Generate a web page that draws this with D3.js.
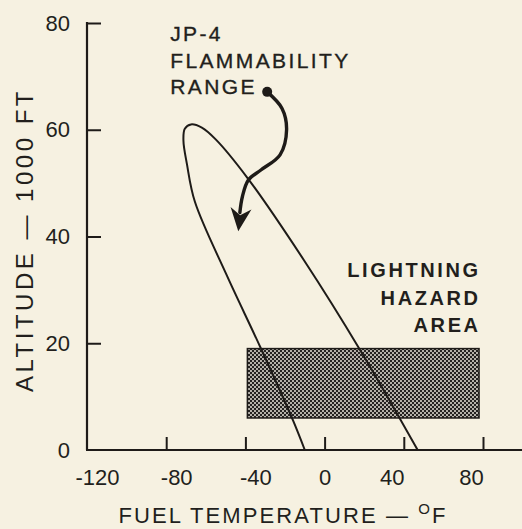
<!DOCTYPE html>
<html>
<head>
<meta charset="utf-8">
<script src="https://cdn.jsdelivr.net/npm/d3@7"></script>
<style>
  html, body { margin: 0; padding: 0; background: #f6f1e1; }
  svg { display: block; }
  text { font-family: "Liberation Sans", Arial, Helvetica, sans-serif; fill: #221f1c; }
</style>
</head>
<body>
<script>
// ---- data ----
const xTicks = [-120, -80, -40, 0, 40, 80];
const yTicks = [0, 20, 40, 60, 80];

// JP-4 flammability range boundary (fuel temperature °F, altitude 1000 ft)
const loopTemp = [-10, -16, -32.5, -49.5, -65.5, -69.5, -71.3, -70.6, -67.5, -62, -55, -39, -10.5, 18, 47];
const loopAlt  = [0, 5.6, 19.3, 32.8, 46.5, 53.5, 58, 60.2, 61, 60.4, 58.2, 51, 35.6, 18.7, 0];

// Lightning hazard area
const hazardTemp = [-39, 78];
const hazardAlt  = [6, 19];

// Annotation arrow from label into the range
const arrowTemp = [-29, -21.5, -19.2, -22.5, -32, -38.5, -41.5, -42.8, -43.6];
const arrowAlt  = [67.1, 64, 60, 55.3, 52.5, 50.6, 47.5, 44.5, 41];

const flamLabel = ["JP-4", "FLAMMABILITY", "RANGE"];
const flamLabelPos = [-78, 76.6];
const hazardLabel = ["LIGHTNING", "HAZARD", "AREA"];
const hazardLabelPos = [77.5, 32.4];

// ---- chart ----
const W = 522, H = 529;
const svg = d3.select("body").append("svg").attr("width", W).attr("height", H);
svg.append("rect").attr("width", W).attr("height", H).attr("fill", "#f6f1e1");

const x = d3.scaleLinear().domain([-120, 80]).range([87, 483]);
const y = d3.scaleLinear().domain([0, 80]).range([450, 23]);
const ink = "#1e1b18";

const defs = svg.append("defs");
const pat = defs.append("pattern").attr("id", "dots")
  .attr("patternUnits", "userSpaceOnUse").attr("width", 4).attr("height", 4);
pat.append("rect").attr("width", 4).attr("height", 4).attr("fill", "#242220");
pat.append("circle").attr("cx", 1).attr("cy", 1).attr("r", 0.95).attr("fill", "#f2eee2");
pat.append("circle").attr("cx", 3).attr("cy", 3).attr("r", 0.95).attr("fill", "#f2eee2");

// hazard rectangle
svg.append("rect")
  .attr("x", x(hazardTemp[0])).attr("y", y(hazardAlt[1]))
  .attr("width", x(hazardTemp[1]) - x(hazardTemp[0]))
  .attr("height", y(hazardAlt[0]) - y(hazardAlt[1]))
  .attr("fill", "url(#dots)").attr("stroke", ink).attr("stroke-width", 1.5);

// axes
const xAxis = d3.axisBottom(x).tickValues(xTicks).tickSizeInner(-13).tickSizeOuter(0).tickPadding(19)
  .tickFormat(d => String(d));
const gx = svg.append("g").attr("transform", `translate(0,${y(0)})`).call(xAxis);
gx.select(".domain").remove();
gx.selectAll(".tick line").attr("stroke", ink).attr("stroke-width", 2);
gx.selectAll(".tick text").attr("font-size", 22).attr("fill", ink)
  .attr("font-family", "Liberation Sans, Arial, sans-serif")
  .attr("dx", d => d < 0 ? 10 : (d > 0 ? -12 : 0));
gx.selectAll(".tick").filter(d => d === -120).select("line").remove();

const yAxis = d3.axisLeft(y).tickValues(yTicks).tickSizeInner(-14).tickSizeOuter(0).tickPadding(17)
  .tickFormat(d => String(d));
const gy = svg.append("g").attr("transform", `translate(${x(-120)},0)`).call(yAxis);
gy.select(".domain").remove();
gy.selectAll(".tick line").attr("stroke", ink).attr("stroke-width", 2);
gy.selectAll(".tick text").attr("font-size", 22).attr("fill", ink)
  .attr("font-family", "Liberation Sans, Arial, sans-serif");
gy.selectAll(".tick").filter(d => d === 0).select("line").remove();

svg.append("line").attr("x1", x(-120)).attr("x2", x(-120)).attr("y1", y(80) - 1).attr("y2", y(0))
  .attr("stroke", ink).attr("stroke-width", 2.2);
svg.append("line").attr("x1", x(-120) - 1).attr("x2", W).attr("y1", y(0)).attr("y2", y(0))
  .attr("stroke", ink).attr("stroke-width", 2.2);

// flammability loop
const loopPts = loopTemp.map((t, i) => [t, loopAlt[i]]);
const line = d3.line().x(d => x(d[0])).y(d => y(d[1])).curve(d3.curveCatmullRom.alpha(0.5));
svg.append("path").attr("d", line(loopPts)).attr("fill", "none")
  .attr("stroke", ink).attr("stroke-width", 2);

// arrow (shaft stops at head base, head drawn from the last segment's direction)
const arrowPts = arrowTemp.map((t, i) => [t, arrowAlt[i]]);
const n = arrowPts.length;
const tip = [x(arrowPts[n - 1][0]), y(arrowPts[n - 1][1])];
const prev = [x(arrowPts[n - 3][0]), y(arrowPts[n - 3][1])];
let dx = tip[0] - prev[0], dy = tip[1] - prev[1];
const len = Math.hypot(dx, dy); dx /= len; dy /= len;
const px = -dy, py = dx;
const headL = 23, headW = 10.5, notch = 7;
svg.append("path").attr("d", line(arrowPts.slice(0, n - 1))).attr("fill", "none")
  .attr("stroke", ink).attr("stroke-width", 3.4).attr("stroke-linecap", "round");
const head = [
  tip,
  [tip[0] - dx * headL + px * headW, tip[1] - dy * headL + py * headW],
  [tip[0] - dx * (headL - notch), tip[1] - dy * (headL - notch)],
  [tip[0] - dx * headL - px * headW, tip[1] - dy * headL - py * headW]
];
svg.append("path").attr("d", "M" + head.map(p => p.join(",")).join("L") + "Z").attr("fill", ink);
svg.append("circle").attr("cx", x(arrowTemp[0])).attr("cy", y(arrowAlt[0])).attr("r", 5).attr("fill", ink);

// labels
const ft = svg.append("text").attr("x", x(flamLabelPos[0])).attr("y", y(flamLabelPos[1]))
  .attr("font-size", 21).attr("letter-spacing", 2.4).attr("stroke", "#221f1c").attr("stroke-width", 0.35);
flamLabel.forEach((s, i) => ft.append("tspan").attr("x", x(flamLabelPos[0])).attr("dy", i === 0 ? 0 : 26.5).text(s));

const ht = svg.append("text").attr("x", x(hazardLabelPos[0])).attr("y", y(hazardLabelPos[1]))
  .attr("font-size", 20).attr("font-weight", "bold").attr("letter-spacing", 2.6).attr("text-anchor", "end");
hazardLabel.forEach((s, i) => ht.append("tspan").attr("x", x(hazardLabelPos[0]) + 2.6).attr("dy", i === 0 ? 0 : 27.5).text(s));

// axis titles
const xt = svg.append("text").attr("x", 283).attr("y", 523).attr("text-anchor", "middle")
  .attr("font-size", 22).attr("letter-spacing", 2.1);
xt.append("tspan").text("FUEL TEMPERATURE — ");
xt.append("tspan").attr("font-size", 15).attr("dy", -9).text("O");
xt.append("tspan").attr("dy", 9).text("F");

svg.append("text").attr("transform", "translate(33,240) rotate(-90)").attr("text-anchor", "middle")
  .attr("font-size", 24).attr("letter-spacing", 3.5).text("ALTITUDE — 1000 FT");
</script>
</body>
</html>
